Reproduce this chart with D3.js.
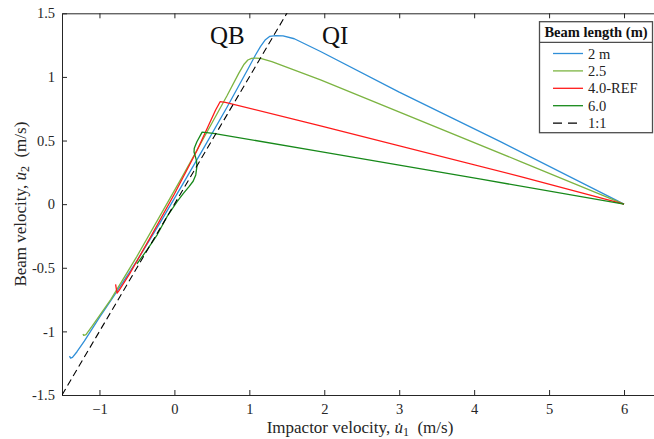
<!DOCTYPE html>
<html><head><meta charset="utf-8">
<script src="https://cdn.jsdelivr.net/npm/d3@7"></script>
<style>
body{margin:0;background:#fff;}
svg{display:block;font-family:"Liberation Serif","Times New Roman",serif;}
svg text{font-family:"Liberation Serif","Times New Roman",serif;}
</style></head>
<body>
<svg id="chart" width="654" height="439"></svg>
<script>
// ---- data ----
const seriesNames = ["2 m", "2.5", "4.0-REF", "6.0", "1:1"];
const seriesColors = ["#2f8fd8", "#7cb442", "#ff1a1a", "#17891a", "#000000"];

const x2m = [-1.40,-1.385,-1.36,-1.30,-1.20,-1.00,-0.80,-0.50,-0.20,0.10,0.40,0.70,0.98,1.08,1.15,1.21,1.27,1.35,1.45,1.60,1.95,3.00,4.35,6.00];
const y2m = [-1.195,-1.21,-1.205,-1.16,-1.075,-0.89,-0.715,-0.445,-0.155,0.145,0.45,0.76,1.06,1.17,1.24,1.29,1.318,1.325,1.322,1.30,1.20,0.88,0.492,0.00];

const x25 = [-1.22,-1.21,-1.18,-1.10,-0.85,-0.50,-0.20,0.10,0.40,0.70,0.86,0.93,0.98,1.03,1.08,1.15,1.30,1.95,4.62,6.00];
const y25 = [-1.02,-1.032,-1.025,-0.96,-0.75,-0.41,-0.10,0.21,0.53,0.85,1.03,1.10,1.133,1.146,1.148,1.145,1.12,0.977,0.335,0.00];

const x40 = [-0.785,-0.765,-0.74,-0.60,-0.30,0.00,0.30,0.55,0.61,0.68,1.95,4.62,6.00];
const y40 = [-0.63,-0.70,-0.68,-0.55,-0.24,0.08,0.42,0.74,0.805,0.80,0.615,0.217,0.00];

const x60 = [-0.50,-0.365,-0.23,-0.097,0.036,0.12,0.19,0.25,0.285,0.30,0.295,0.28,0.262,0.265,0.30,0.37,0.52,1.95,4.09,6.00];
const y60 = [-0.47,-0.359,-0.241,-0.097,0.02,0.085,0.134,0.18,0.23,0.295,0.34,0.374,0.41,0.44,0.49,0.566,0.557,0.413,0.196,0.00];

const x11 = [-1.5, 1.6];
const y11 = [-1.5, 1.6];

const xTicks = [-1, 0, 1, 2, 3, 4, 5, 6];
const yTicks = [-1.5, -1, -0.5, 0, 0.5, 1, 1.5];
const yTickLabels = ["-1.5", "-1", "-0.5", "0", "0.5", "1", "1.5"];

// ---- layout ----
const svg = d3.select("#chart");
const L = 62, R = 654, T = 13.3, B = 395;
const x = d3.scaleLinear().domain([-1.5, 6.4]).range([L, R]);
const y = d3.scaleLinear().domain([-1.5, 1.5]).range([B, T]);
const axisColor = "#262626";
const serif = "Liberation Serif, Times New Roman, serif";

svg.append("defs").append("clipPath").attr("id", "clip")
  .append("rect").attr("x", L).attr("y", T).attr("width", R - L).attr("height", B - T);

// axes
const gx = svg.append("g").attr("transform", `translate(0,${B})`)
  .call(d3.axisBottom(x).tickValues(xTicks).tickSizeInner(-5).tickSizeOuter(0).tickPadding(9).tickFormat(d3.format("d")));
const gxt = svg.append("g").attr("transform", `translate(0,${T})`)
  .call(d3.axisTop(x).tickValues(xTicks).tickSizeInner(-5).tickSizeOuter(0).tickFormat(""));
const gy = svg.append("g").attr("transform", `translate(${L},0)`)
  .call(d3.axisLeft(y).tickValues(yTicks).tickSizeInner(-5).tickSizeOuter(0).tickPadding(7)
    .tickFormat((d, i) => yTickLabels[i]));
[gx, gxt, gy].forEach(g => {
  g.attr("font-family", serif).attr("font-size", 14.5);
  g.select(".domain").attr("stroke", axisColor).attr("stroke-width", 1);
  g.selectAll(".tick line").attr("stroke", axisColor).attr("stroke-width", 1);
  g.selectAll(".tick text").attr("fill", axisColor).attr("font-size", 14.5)
    .attr("font-family", serif);
});

// lines
const line = d3.line().x(d => x(d[0])).y(d => y(d[1]));
const series = [
  [x2m, y2m], [x25, y25], [x40, y40], [x60, y60], [x11, y11]
];
const plot = svg.append("g").attr("clip-path", "url(#clip)");
series.forEach((s, i) => {
  const pts = s[0].map((v, j) => [v, s[1][j]]);
  plot.append("path").datum(pts).attr("d", line)
    .attr("fill", "none").attr("stroke", seriesColors[i])
    .attr("stroke-width", i === 4 ? 1.1 : 1.3)
    .attr("stroke-linejoin", "round")
    .attr("stroke-dasharray", i === 4 ? "7,4" : null);
});

// region labels
svg.append("text").attr("x", 210).attr("y", 43.5).attr("font-size", 25).attr("fill", "#111").text("QB");
svg.append("text").attr("x", 322).attr("y", 43.5).attr("font-size", 25).attr("fill", "#111").text("QI");

// axis labels
const xl = svg.append("text").attr("x", 360).attr("y", 433).attr("text-anchor", "middle")
  .attr("font-size", 17).attr("fill", axisColor);
xl.append("tspan").text("Impactor velocity, ");
xl.append("tspan").attr("font-style", "italic").text("u\u0307");
xl.append("tspan").attr("font-size", 12).attr("dy", 3).text("1");
xl.append("tspan").attr("dy", -3).text("\u2002(m/s)");

const yl = svg.append("text").attr("transform", `translate(26,${(T + B) / 2}) rotate(-90)`)
  .attr("text-anchor", "middle").attr("font-size", 17).attr("fill", axisColor);
yl.append("tspan").text("Beam velocity, ");
yl.append("tspan").attr("font-style", "italic").text("u\u0307");
yl.append("tspan").attr("font-size", 12).attr("dy", 3).text("2");
yl.append("tspan").attr("dy", -3).text("\u2002(m/s)");

// legend
const lg = svg.append("g");
const lx0 = 539.5, ly0 = 21.7, lw = 113, lh = 111;
lg.append("rect").attr("x", lx0).attr("y", ly0).attr("width", lw).attr("height", lh)
  .attr("fill", "#fff").attr("stroke", "#4d4d4d").attr("stroke-width", 1.3);
lg.append("line").attr("x1", lx0).attr("x2", lx0 + lw).attr("y1", 42.3).attr("y2", 42.3)
  .attr("stroke", "#4d4d4d").attr("stroke-width", 1.3);
lg.append("text").attr("x", lx0 + lw / 2).attr("y", 37).attr("text-anchor", "middle")
  .attr("font-size", 14.5).attr("font-weight", "bold").attr("fill", "#111").text("Beam length (m)");
seriesNames.forEach((n, i) => {
  const yy = 53.5 + i * 17.4;
  lg.append("line").attr("x1", 553).attr("x2", 583).attr("y1", yy).attr("y2", yy)
    .attr("stroke", seriesColors[i]).attr("stroke-width", 1.3)
    .attr("stroke-dasharray", i === 4 ? "9,6" : null);
  lg.append("text").attr("x", 588).attr("y", yy + 5).attr("font-size", 14.5).attr("fill", "#222").text(n);
});
</script>
</body></html>
